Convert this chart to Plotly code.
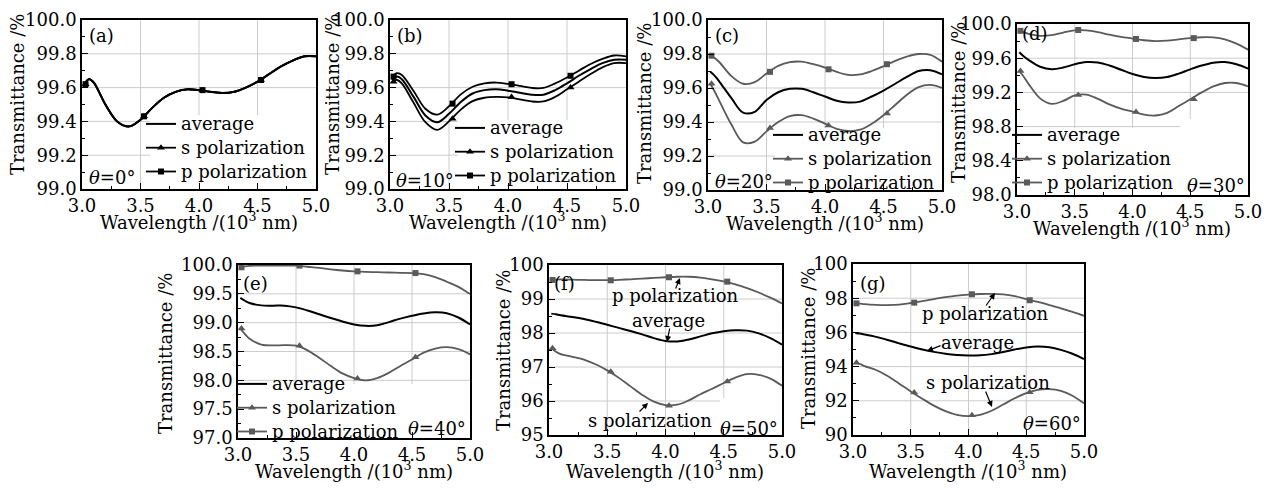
import plotly.graph_objects as go

W, H = 1279, 489
OFF = 8  # page body margin of the browser; positions below are given in window pixels
FONT = "DejaVu Serif"
GRAY = "#5a5a5a"
GRID = "#cccccc"

# ---------------- data ----------------
wavelength = [3.02, 3.06, 3.1, 3.2, 3.3, 3.4, 3.5, 3.6, 3.7, 3.8, 3.9, 4.0,
              4.1, 4.2, 4.3, 4.4, 4.5, 4.6, 4.7, 4.8, 4.9, 5.0]
marker_wavelength = [3.03, 3.53, 4.03, 4.53]

# (a) theta = 0 deg
a_avg = [99.62, 99.65, 99.63, 99.50, 99.40, 99.37, 99.41, 99.48, 99.54, 99.575, 99.59, 99.585,
         99.575, 99.568, 99.575, 99.60, 99.635, 99.68, 99.725, 99.76, 99.785, 99.785]
a_s = [99.62, 99.65, 99.63, 99.50, 99.40, 99.37, 99.41, 99.48, 99.54, 99.575, 99.59, 99.585,
       99.575, 99.568, 99.575, 99.60, 99.635, 99.68, 99.725, 99.76, 99.785, 99.785]
a_p = [99.62, 99.65, 99.63, 99.50, 99.40, 99.37, 99.41, 99.48, 99.54, 99.575, 99.59, 99.585,
       99.575, 99.568, 99.575, 99.60, 99.635, 99.68, 99.725, 99.76, 99.785, 99.785]
a_s_mk = [99.62, 99.43, 99.585, 99.645]
a_p_mk = [99.62, 99.43, 99.585, 99.645]

# (b) theta = 10 deg
b_avg = [99.645, 99.665, 99.65, 99.545, 99.435, 99.395, 99.445, 99.515, 99.565, 99.585, 99.59, 99.582,
         99.57, 99.558, 99.558, 99.585, 99.625, 99.67, 99.71, 99.745, 99.765, 99.765]
b_s = [99.635, 99.645, 99.625, 99.51, 99.395, 99.35, 99.40, 99.47, 99.52, 99.54, 99.545, 99.542,
       99.53, 99.518, 99.518, 99.545, 99.59, 99.635, 99.68, 99.72, 99.745, 99.745]
b_p = [99.665, 99.685, 99.675, 99.58, 99.475, 99.44, 99.49, 99.56, 99.605, 99.625, 99.63, 99.622,
       99.61, 99.598, 99.598, 99.625, 99.66, 99.70, 99.74, 99.77, 99.79, 99.785]
b_s_mk = [99.635, 99.415, 99.545, 99.60]
b_p_mk = [99.665, 99.505, 99.62, 99.67]

# (c) theta = 20 deg
c_avg = [99.695, 99.67, 99.635, 99.54, 99.455, 99.46, 99.53, 99.575, 99.595, 99.595, 99.575, 99.55,
         99.525, 99.515, 99.52, 99.55, 99.585, 99.625, 99.665, 99.70, 99.705, 99.68]
c_s = [99.625, 99.575, 99.52, 99.385, 99.28, 99.285, 99.345, 99.40, 99.435, 99.44, 99.42, 99.39,
       99.36, 99.347, 99.355, 99.39, 99.44, 99.50, 99.56, 99.605, 99.618, 99.60]
c_p = [99.79, 99.775, 99.75, 99.67, 99.625, 99.635, 99.685, 99.73, 99.752, 99.755, 99.74, 99.72,
       99.695, 99.677, 99.68, 99.70, 99.728, 99.76, 99.785, 99.80, 99.795, 99.755]
c_s_mk = [99.625, 99.365, 99.38, 99.45]
c_p_mk = [99.79, 99.695, 99.71, 99.74]

# (d) theta = 30 deg
d_avg = [99.67, 99.62, 99.58, 99.50, 99.47, 99.49, 99.53, 99.555, 99.55, 99.515, 99.465, 99.415,
         99.38, 99.368, 99.38, 99.42, 99.47, 99.515, 99.548, 99.555, 99.53, 99.48]
d_s = [99.45, 99.38, 99.30, 99.13, 99.065, 99.10, 99.165, 99.175, 99.125, 99.06, 99.01, 98.975,
       98.94, 98.93, 98.96, 99.04, 99.12, 99.20, 99.27, 99.31, 99.31, 99.27]
d_p = [99.92, 99.905, 99.885, 99.862, 99.87, 99.90, 99.925, 99.925, 99.905, 99.875, 99.85, 99.83,
       99.81, 99.80, 99.805, 99.82, 99.835, 99.845, 99.843, 99.82, 99.77, 99.70]
d_s_mk = [99.45, 99.17, 98.97, 99.12]
d_p_mk = [99.92, 99.93, 99.825, 99.835]

# (e) theta = 40 deg
e_avg = [99.43, 99.38, 99.34, 99.30, 99.295, 99.295, 99.265, 99.21, 99.145, 99.08, 99.02, 98.97,
         98.945, 98.955, 99.01, 99.07, 99.12, 99.16, 99.18, 99.165, 99.09, 98.97]
e_s = [98.90, 98.80, 98.72, 98.62, 98.605, 98.61, 98.60, 98.52, 98.39, 98.25, 98.12, 98.04,
       98.00, 98.04, 98.13, 98.25, 98.36, 98.48, 98.55, 98.575, 98.54, 98.45]
e_p = [99.96, 99.975, 99.985, 99.99, 99.99, 99.99, 99.99, 99.97, 99.95, 99.925, 99.905, 99.89,
       99.88, 99.875, 99.87, 99.865, 99.86, 99.84, 99.79, 99.71, 99.62, 99.495]
e_s_mk = [98.90, 98.60, 98.03, 98.40]
e_p_mk = [99.96, 99.99, 99.89, 99.86]

# (f) theta = 50 deg
f_avg = [98.57, 98.55, 98.52, 98.47, 98.41, 98.33, 98.24, 98.15, 98.06, 97.96, 97.85, 97.765,
         97.75, 97.81, 97.90, 97.99, 98.05, 98.08, 98.07, 97.99, 97.85, 97.66]
f_s = [97.56, 97.45, 97.38, 97.30, 97.22, 97.08, 96.90, 96.68, 96.43, 96.18, 95.98, 95.88,
       95.89, 96.02, 96.20, 96.36, 96.53, 96.69, 96.79, 96.77, 96.66, 96.45]
f_p = [99.56, 99.57, 99.575, 99.57, 99.56, 99.555, 99.555, 99.565, 99.58, 99.60, 99.62, 99.64,
       99.655, 99.655, 99.63, 99.58, 99.52, 99.43, 99.32, 99.19, 99.04, 98.87]
f_s_mk = [97.55, 96.86, 95.86, 96.57]
f_p_mk = [99.56, 99.55, 99.64, 99.51]

# (g) theta = 60 deg
g_avg = [95.97, 95.93, 95.88, 95.74, 95.56, 95.36, 95.17, 95.00, 94.86, 94.75, 94.68, 94.65,
         94.66, 94.73, 94.85, 95.00, 95.12, 95.17, 95.13, 94.98, 94.75, 94.44]
g_s = [94.25, 94.15, 94.03, 93.80, 93.45, 93.00, 92.55, 92.12, 91.72, 91.40, 91.18, 91.10,
       91.18, 91.42, 91.78, 92.15, 92.45, 92.64, 92.68, 92.58, 92.30, 91.85]
g_p = [97.70, 97.68, 97.65, 97.61, 97.60, 97.63, 97.72, 97.83, 97.95, 98.06, 98.15, 98.21,
       98.245, 98.25, 98.22, 98.12, 97.94, 97.78, 97.60, 97.41, 97.20, 96.97]
g_s_mk = [94.23, 92.48, 91.15, 92.50]
g_p_mk = [97.70, 97.74, 98.23, 97.88]

panel_tags = ["(a)", "(b)", "(c)", "(d)", "(e)", "(f)", "(g)"]
angles = ["0", "10", "20", "30", "40", "50", "60"]
series_names = ["average", "s polarization", "p polarization"]
x_ticks = [3.0, 3.5, 4.0, 4.5, 5.0]

# ---------------- layout helpers ----------------
def px(x):
    return (x - OFF) / W

def py(y):
    return 1 - (y - OFF) / H

panels = [
    dict(avg=a_avg, s=a_s, p=a_p, smk=a_s_mk, pmk=a_p_mk, yr=[99.0, 100.0], dt=0.2, mdt=0.1, fmt=".1f",
         box=(82, 20, 316, 189), col="black", legend=(141, 107), theta=("left", 87, 178),
         tag=(87, 35), ytit=(18, 95), xtit=(199, 221),
         white=[(150, 115, 316, 189)]),
    dict(avg=b_avg, s=b_s, p=b_p, smk=b_s_mk, pmk=b_p_mk, yr=[99.0, 100.0], dt=0.2, mdt=0.1, fmt=".1f",
         box=(390, 20, 626, 189), col="black", legend=(450, 111), theta=("left", 394, 180),
         tag=(395, 35), ytit=(333, 95), xtit=(508, 221),
         white=[(458, 120, 626, 189)]),
    dict(avg=c_avg, s=c_s, p=c_p, smk=c_s_mk, pmk=c_p_mk, yr=[99.0, 100.0], dt=0.2, mdt=0.1, fmt=".1f",
         box=(708, 20, 942, 190), col=GRAY, legend=(768, 118), theta=("left", 713, 182),
         tag=(713, 35), ytit=(645, 104), xtit=(825, 222),
         white=[(775, 128, 942, 190)]),
    dict(avg=d_avg, s=d_s, p=d_p, smk=d_s_mk, pmk=d_p_mk, yr=[98.0, 100.0], dt=0.4, mdt=0.2, fmt=".1f",
         box=(1017, 24, 1248, 195), col=GRAY, legend=(1007, 118), theta=("right", 1247, 185),
         tag=(1020, 33), ytit=(958, 103), xtit=(1132, 227),
         white=[(1017, 128, 1248, 195), (1180, 119, 1248, 128)]),
    dict(avg=e_avg, s=e_s, p=e_p, smk=e_s_mk, pmk=e_p_mk, yr=[97.0, 100.0], dt=0.5, mdt=0.25, fmt=".1f",
         box=(238, 265, 470, 438), col=GRAY, legend=(232, 367), theta=("right", 468, 428),
         tag=(241, 283), ytit=(165, 354), xtit=(354, 470),
         white=[(240, 384, 470, 438)]),
    dict(avg=f_avg, s=f_s, p=f_p, smk=f_s_mk, pmk=f_p_mk, yr=[95, 100], dt=1, mdt=0.5, fmt="d",
         box=(549, 265, 782, 435), col=GRAY, legend=None, theta=("right", 780, 428),
         tag=(552, 283), ytit=(503, 351), xtit=(665, 470),
         white=[(720, 398, 782, 435)]),
    dict(avg=g_avg, s=g_s, p=g_p, smk=g_s_mk, pmk=g_p_mk, yr=[90, 100], dt=2, mdt=1, fmt="d",
         box=(853, 264, 1084, 435), col=GRAY, legend=None, theta=("right", 1083, 423),
         tag=(858, 283), ytit=(808, 349), xtit=(968, 470),
         white=[]),
]

# text labels + arrows for panels without legend: (text, text_x, text_y, tail_x, tail_y, tip_x, tip_y)
callouts = {
    5: [("p polarization", 675, 295, 675, 290, 680, 278),
        ("average", 668, 320, 670, 327, 667, 342),
        ("s polarization", 650, 420, 638, 413, 648, 403)],
    6: [("p polarization", 985, 313, 985, 307, 995, 293),
        ("average", 977, 342, 942, 345, 927, 351),
        ("s polarization", 988, 382, 985, 390, 992, 407)],
}

def big(t):
    return '<span style="font-size:18px">' + t + '</span>'

fig = go.Figure()
layout = dict(width=W, height=H, margin=dict(l=0, r=0, t=0, b=0, pad=0, autoexpand=False),
              paper_bgcolor="white", plot_bgcolor="white",
              font=dict(family=FONT, size=18, color="black"))
annotations = []
shapes = []

for i, P in enumerate(panels):
    n = i + 1
    xa = "x" if n == 1 else f"x{n}"
    ya = "y" if n == 1 else f"y{n}"
    xkey = "xaxis" if n == 1 else f"xaxis{n}"
    ykey = "yaxis" if n == 1 else f"yaxis{n}"
    leg = "legend" if n == 1 else f"legend{n}"
    l, t, r, b = P["box"]
    col = P["col"]
    has_leg = P["legend"] is not None

    common = dict(showline=True, linecolor="black", linewidth=1.5, mirror=True,
                  ticks="inside", ticklen=6, tickwidth=1.2, tickcolor="black",
                  showgrid=False, zeroline=False, fixedrange=True, automargin=False,
                  ticklabeloverflow="allow",
                  tickfont=dict(family=FONT, size=18, color="black"))
    layout[xkey] = dict(domain=[px(l), px(r)], anchor=ya, range=[3.0, 5.0],
                        tickmode="array", tickvals=x_ticks, tickformat=".1f",
                        minor=dict(dtick=0.25, tick0=3.0, ticks="inside", ticklen=3,
                                   tickcolor="black", showgrid=False), **common)
    layout[ykey] = dict(domain=[py(b), py(t)], anchor=xa, range=P["yr"],
                        dtick=P["dt"], tick0=P["yr"][0], tickformat=P["fmt"],
                        minor=dict(dtick=P["mdt"], tick0=P["yr"][0], ticks="inside", ticklen=3,
                                   tickcolor="black", showgrid=False), **common)

    # grid lines from tick values
    for v in x_ticks[1:-1]:
        shapes.append(dict(type="line", xref=xa, yref=f"{ya} domain", x0=v, x1=v, y0=0, y1=1,
                           line=dict(color=GRID, width=1), layer="below"))
    k = 1
    while True:
        v = P["yr"][0] + k * P["dt"]
        if v >= P["yr"][1] - 1e-9:
            break
        shapes.append(dict(type="line", xref=f"{xa} domain", yref=ya, x0=0, x1=1, y0=v, y1=v,
                           line=dict(color=GRID, width=1), layer="below"))
        k += 1
    for (wl, wt, wr, wb) in P["white"]:
        shapes.append(dict(type="rect", xref=f"{xa} domain", yref=f"{ya} domain",
                           x0=(wl - l) / (r - l), x1=(wr - l) / (r - l),
                           y0=(b - wb) / (b - t), y1=(b - wt) / (b - t),
                           fillcolor="white", line=dict(width=0), layer="below"))

    # legend entries
    if has_leg:
        lx, ly = P["legend"]
        layout[leg] = dict(x=px(lx), y=py(ly), xanchor="left", yanchor="top",
                           bgcolor="rgba(0,0,0,0)", borderwidth=0, itemwidth=30,
                           traceorder="normal", font=dict(family=FONT, size=16, color="black"))
        fig.add_trace(go.Scatter(x=wavelength, y=P["avg"], mode="lines", name=big(series_names[0]),
                                 line=dict(color="black", width=2, shape="spline"),
                                 xaxis=xa, yaxis=ya, legend=leg, showlegend=True, hoverinfo="skip"))
        fig.add_trace(go.Scatter(x=[None], y=[None], mode="lines+markers", name=big(series_names[1]),
                                 line=dict(color=col, width=1.8),
                                 marker=dict(symbol="triangle-up", size=7, color=col),
                                 xaxis=xa, yaxis=ya, legend=leg, showlegend=True))
        fig.add_trace(go.Scatter(x=[None], y=[None], mode="lines+markers", name=big(series_names[2]),
                                 line=dict(color=col, width=1.8),
                                 marker=dict(symbol="square", size=6, color=col),
                                 xaxis=xa, yaxis=ya, legend=leg, showlegend=True))
    else:
        fig.add_trace(go.Scatter(x=wavelength, y=P["avg"], mode="lines", name=series_names[0],
                                 line=dict(color="black", width=2, shape="spline"),
                                 xaxis=xa, yaxis=ya, showlegend=False, hoverinfo="skip"))

    fig.add_trace(go.Scatter(x=wavelength, y=P["s"], mode="lines", name=series_names[1],
                             line=dict(color=col, width=1.8, shape="spline"),
                             xaxis=xa, yaxis=ya, showlegend=False))
    fig.add_trace(go.Scatter(x=wavelength, y=P["p"], mode="lines", name=series_names[2],
                             line=dict(color=col, width=1.8, shape="spline"),
                             xaxis=xa, yaxis=ya, showlegend=False))
    fig.add_trace(go.Scatter(x=marker_wavelength, y=P["smk"], mode="markers", name=series_names[1],
                             marker=dict(symbol="triangle-up", size=7, color=col),
                             xaxis=xa, yaxis=ya, showlegend=False))
    fig.add_trace(go.Scatter(x=marker_wavelength, y=P["pmk"], mode="markers", name=series_names[2],
                             marker=dict(symbol="square", size=6, color=col),
                             xaxis=xa, yaxis=ya, showlegend=False))

    # texts
    side, tx, ty = P["theta"]
    annotations.append(dict(text=f"<i>θ</i>={angles[i]}°", xref="paper", yref="paper",
                            x=px(tx), y=py(ty), xanchor=side, yanchor="middle",
                            showarrow=False, font=dict(family=FONT, size=18)))
    annotations.append(dict(text=panel_tags[i], xref="paper", yref="paper",
                            x=px(P["tag"][0]), y=py(P["tag"][1]), xanchor="left", yanchor="middle",
                            showarrow=False, font=dict(family=FONT, size=18)))
    annotations.append(dict(text="Transmittance /%", xref="paper", yref="paper", textangle=-90,
                            x=px(P["ytit"][0]), y=py(P["ytit"][1]), xanchor="center", yanchor="middle",
                            showarrow=False, font=dict(family=FONT, size=18)))
    annotations.append(dict(text="Wavelength /(10<sup>3</sup> nm)", xref="paper", yref="paper",
                            x=px(P["xtit"][0]), y=py(P["xtit"][1]), xanchor="center", yanchor="middle",
                            showarrow=False, font=dict(family=FONT, size=18)))

    for (txt, cx, cy, tlx, tly, tipx, tipy) in callouts.get(i, []):
        annotations.append(dict(text=txt, xref="paper", yref="paper", x=px(cx), y=py(cy),
                                xanchor="center", yanchor="middle", showarrow=False,
                                font=dict(family=FONT, size=18)))
        annotations.append(dict(text="", xref="paper", yref="paper", x=px(tipx), y=py(tipy),
                                ax=tlx - tipx, ay=tly - tipy, showarrow=True, arrowhead=2,
                                arrowsize=1, arrowwidth=1.2, arrowcolor="black"))

layout["annotations"] = annotations
layout["shapes"] = shapes
fig.update_layout(**layout)
fig.write_html("out.html")
